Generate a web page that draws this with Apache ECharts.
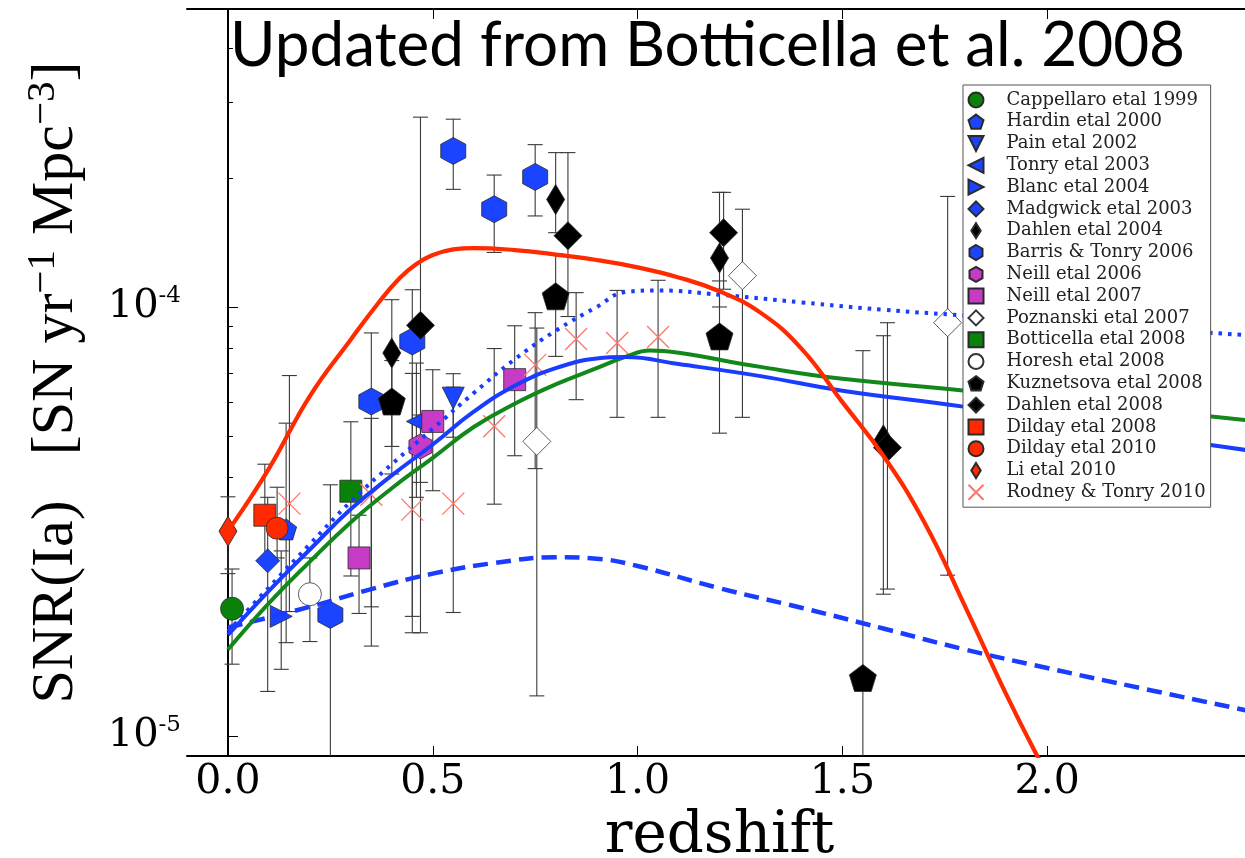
<!DOCTYPE html>
<html><head><meta charset="utf-8">
<script src="https://cdn.jsdelivr.net/npm/echarts@6/dist/echarts.min.js"></script>
<style>html,body{margin:0;padding:0;background:#fff}#c{width:1245px;height:858px}</style>
</head><body><div id="c"></div>
<script>
// ---- observational data: [redshift, rate, lower error, upper error] ----
const cappellaro1999 = [[0.01, 1.98e-5, 1.47e-5, 2.45e-5]];
const hardin2000 = [[0.142, 3.03e-5, 1.65e-5, 5.36e-5]];
const pain2002 = [[0.55, 6.13e-5, 4.97e-5, 6.99e-5]];
const tonry2003 = [[0.46, 5.41e-5, 3.6e-5, 7.4e-5]];
const blanc2004 = [[0.13, 1.9e-5, 1.43e-5, 2.7e-5]];
const madgwick2003 = [[0.097, 2.56e-5, 1.27e-5, 3.6e-5]];
const dahlen2004 = [[0.40, 7.81e-5, 4.08e-5, 1.04e-4], [0.80, 1.78e-4, 1.49e-4, 2.29e-4], [1.20, 1.30e-4, 1.0e-4, 1.85e-4], [1.60, 4.9e-5, 2.14e-5, 8.57e-5]];
const barrisTonry2006 = [[0.25, 1.915e-5, 1e-6, 3.85e-5], [0.35, 6.02e-5, 1.62e-5, 8.7e-5], [0.45, 8.31e-5, 1.74e-5, 1.097e-4], [0.55, 2.31e-4, 1.88e-4, 2.74e-4], [0.65, 1.69e-4, 1.34e-4, 2.03e-4], [0.75, 2.01e-4, 1.63e-4, 2.39e-4]];
const neill2006 = [[0.47, 4.73e-5, 3.9e-5, 5.6e-5]];
const neill2007 = [[0.32, 2.6e-5, 1.93e-5, 3.27e-5], [0.50, 5.41e-5, 3.73e-5, 7.14e-5], [0.70, 6.77e-5, 4.5e-5, 9.04e-5]];
const poznanski2007 = [[0.754, 4.86e-5, 1.24e-5, 8.93e-5], [1.256, 1.183e-4, 5.53e-5, 1.69e-4], [1.757, 9.19e-5, 2.37e-5, 1.81e-4]];
const botticella2008 = [[0.30, 3.72e-5, 2.36e-5, 5.4e-5]];
const horesh2008 = [[0.20, 2.14e-5, 1.66e-5, 2.6e-5]];
const kuznetsova2008 = [[0.40, 6.02e-5, 4.73e-5, 7.5e-5], [0.80, 1.059e-4, 7.67e-5, 1.33e-4], [1.20, 8.54e-5, 5.08e-5, 1.15e-4], [1.55, 1.365e-5, 1e-6, 7.91e-5]];
const dahlen2008 = [[0.47, 9.06e-5, 1.74e-5, 2.77e-4], [0.83, 1.466e-4, 9.5e-5, 2.29e-4], [1.21, 1.49e-4, 1.1e-4, 1.85e-4], [1.61, 4.7e-5, 2.2e-5, 9.19e-5]];
const dilday2008 = [[0.09, 3.27e-5, 2.55e-5, 4.3e-5]];
const dilday2010 = [[0.12, 3.05e-5, 2.6e-5, 3.8e-5]];
const li2010 = [[0.0, 3.0e-5, 2.39e-5, 3.61e-5]];
const rodneyTonry2010 = [[0.15, 3.48e-5, 1.95e-5, 6.92e-5], [0.35, 3.65e-5, 2.0e-5, 5.5e-5], [0.45, 3.37e-5, 1.9e-5, 7.0e-5], [0.55, 3.48e-5, 1.94e-5, 6.5e-5], [0.65, 5.27e-5, 3.47e-5, 8.0e-5], [0.75, 7.33e-5, 4.2e-5, 9.7e-5], [0.85, 8.42e-5, 6.08e-5, 1.08e-4], [0.95, 8.24e-5, 5.53e-5, 1.093e-4], [1.05, 8.51e-5, 5.53e-5, 1.154e-4]];

// ---- model curves: [redshift, rate] ----
const modelRed = [[0.01,3.1e-5],[0.1,4.2e-5],[0.2,6.2e-5],[0.3,8.4e-5],[0.37,1.03e-4],[0.42,1.17e-4],[0.46,1.26e-4],[0.5,1.322e-4],[0.55,1.362e-4],[0.6,1.372e-4],[0.7,1.357e-4],[0.8,1.325e-4],[0.9,1.287e-4],[1.0,1.237e-4],[1.1,1.172e-4],[1.2,1.088e-4],[1.3,9.7e-5],[1.4,8.0e-5],[1.5,6.0e-5],[1.6,4.5e-5],[1.7,3.15e-5],[1.8,2.0e-5],[1.9,1.25e-5],[1.97,9.2e-6],[2.0,8.2e-6]];
const modelBlue = [[0.0,1.72e-5],[0.1,2.18e-5],[0.2,2.72e-5],[0.3,3.38e-5],[0.4,4.05e-5],[0.5,4.78e-5],[0.6,5.7e-5],[0.7,6.55e-5],[0.8,7.2e-5],[0.9,7.58e-5],[0.97,7.64e-5],[1.1,7.36e-5],[1.3,6.9e-5],[1.5,6.38e-5],[1.8,5.85e-5],[2.1,5.25e-5],[2.5,4.62e-5]];
const modelGreen = [[0.0,1.59e-5],[0.1,2.04e-5],[0.2,2.55e-5],[0.3,3.15e-5],[0.4,3.78e-5],[0.5,4.45e-5],[0.6,5.25e-5],[0.7,5.95e-5],[0.8,6.6e-5],[0.9,7.2e-5],[0.97,7.65e-5],[1.03,7.92e-5],[1.1,7.82e-5],[1.3,7.25e-5],[1.5,6.8e-5],[1.8,6.38e-5],[2.1,5.95e-5],[2.5,5.43e-5]];
const modelBlueDotted = [[0.0,1.75e-5],[0.1,2.22e-5],[0.2,2.8e-5],[0.3,3.52e-5],[0.4,4.3e-5],[0.5,5.2e-5],[0.6,6.3e-5],[0.7,7.55e-5],[0.8,8.8e-5],[0.9,1.0e-4],[0.97,1.083e-4],[1.05,1.093e-4],[1.2,1.068e-4],[1.4,1.025e-4],[1.6,9.85e-5],[1.8,9.55e-5],[2.1,9.1e-5],[2.5,8.58e-5]];
const modelBlueDashed = [[0.0,1.79e-5],[0.2,2.0e-5],[0.35,2.2e-5],[0.5,2.39e-5],[0.65,2.53e-5],[0.8,2.61e-5],[0.9,2.59e-5],[1.0,2.49e-5],[1.2,2.21e-5],[1.4,1.99e-5],[1.6,1.78e-5],[1.8,1.59e-5],[2.0,1.44e-5],[2.2,1.31e-5],[2.5,1.14e-5]];

// ---- axes ticks ----
const xTickValues = [0.0, 0.5, 1.0, 1.5, 2.0];
const yMajorTicks = [1e-5, 1e-4];
const yMinorTicks = [2e-5,3e-5,4e-5,5e-5,6e-5,7e-5,8e-5,9e-5,2e-4,3e-4,4e-4];

const BLUE = '#1a44ff', MAG = '#c63cc6', GREEN = '#0a820a', RED = '#ff2a00', EDGE = '#2a2a2a';
const PENT = 'path://M0,-10L9.511,-3.09L5.878,8.09L-5.878,8.09L-9.511,-3.09Z';
const HEX = 'path://M0,-10L8.66,-5L8.66,5L0,10L-8.66,5L-8.66,-5Z';
const TDOWN = 'path://M-1,-1L1,-1L0,1Z';
const TLEFT = 'path://M1,-1L1,1L-1,0Z';
const TRIGHT = 'path://M-1,-1L-1,1L1,0Z';
const DIAM = 'path://M0,-1L1,0L0,1L-1,0Z';
const THIN = 'path://M0,-1.6L1,0L0,1.6L-1,0Z';
const XMARK = 'path://M-1,-1L1,1M1,-1L-1,1';

const sets = [
  {name:'Cappellaro etal 1999', d:cappellaro1999, symbol:'circle', size:23, color:GREEN},
  {name:'Hardin etal 2000', d:hardin2000, symbol:PENT, size:21, color:BLUE},
  {name:'Pain etal 2002', d:pain2002, symbol:TDOWN, size:22, color:BLUE},
  {name:'Tonry etal 2003', d:tonry2003, symbol:TLEFT, size:20, color:BLUE},
  {name:'Blanc etal 2004', d:blanc2004, symbol:TRIGHT, size:22, color:BLUE},
  {name:'Madgwick etal 2003', d:madgwick2003, symbol:DIAM, size:24, color:BLUE},
  {name:'Dahlen etal 2004', d:dahlen2004, symbol:THIN, size:[18,30], color:'#000'},
  {name:'Barris & Tonry 2006', d:barrisTonry2006, symbol:HEX, size:[25,27], color:BLUE},
  {name:'Neill etal 2006', d:neill2006, symbol:HEX, size:[23,25], color:MAG},
  {name:'Neill etal 2007', d:neill2007, symbol:'rect', size:22, color:MAG},
  {name:'Poznanski etal 2007', d:poznanski2007, symbol:DIAM, size:28, color:'#fff', edge:'#333'},
  {name:'Botticella etal 2008', d:botticella2008, symbol:'rect', size:22, color:GREEN},
  {name:'Horesh etal 2008', d:horesh2008, symbol:'circle', size:23, color:'#fff', edge:'#333'},
  {name:'Kuznetsova etal 2008', d:kuznetsova2008, symbol:PENT, size:27, color:'#000'},
  {name:'Dahlen etal 2008', d:dahlen2008, symbol:DIAM, size:28, color:'#000'},
  {name:'Dilday etal 2008', d:dilday2008, symbol:'rect', size:22, color:RED},
  {name:'Dilday etal 2010', d:dilday2010, symbol:'circle', size:22, color:RED},
  {name:'Li etal 2010', d:li2010, symbol:THIN, size:[18,30], color:RED},
  {name:'Rodney & Tonry 2010', d:rodneyTonry2010, symbol:XMARK, size:22, color:'transparent', edge:'#ff7468', bw:1.3}
];

const errorRows = [];
sets.forEach(s => s.d.forEach(p => errorRows.push(p)));

const series = [];
series.push({
  type:'custom', name:'errorbars', silent:true, z:2,
  data: errorRows,
  encode:{x:0, y:1},
  renderItem: function(params, api){
    const x = api.value(0), lo = api.value(2), hi = api.value(3);
    const pH = api.coord([x, hi]), pL = api.coord([x, lo]);
    const cs = params.coordSys;
    const top = cs.y, bot = cs.y + cs.height;
    const px = pH[0];
    const y1 = Math.max(top, pH[1]), y2 = Math.min(bot, pL[1]);
    const st = {stroke:'#3a3a3a', lineWidth:1.1};
    const ch = [{type:'line', shape:{x1:px, y1:y1, x2:px, y2:y2}, style:st}];
    if (pH[1] >= top) ch.push({type:'line', shape:{x1:px-7.5, y1:pH[1], x2:px+7.5, y2:pH[1]}, style:st});
    if (pL[1] <= bot) ch.push({type:'line', shape:{x1:px-7.5, y1:pL[1], x2:px+7.5, y2:pL[1]}, style:st});
    return {type:'group', children:ch};
  }
});
sets.forEach(s => {
  series.push({
    type:'scatter', name:s.name, z:3,
    data: s.d.map(p => [p[0], p[1]]),
    symbol:s.symbol, symbolSize:s.size,
    itemStyle:{color:s.color, borderColor:s.edge || EDGE, borderWidth:s.bw || 0.8, opacity:1},
    emphasis:{disabled:true}
  });
});
function lineSeries(data, color, width, type){
  return {type:'line', data:data, showSymbol:false, symbol:'none', smooth:0.45, z:5, silent:true,
    lineStyle:{color:color, width:width, type:type || 'solid', cap:'butt'}};
}
series.push(lineSeries(modelBlueDashed, '#1a3cff', 4.5, [15, 8]));
series.push(lineSeries(modelBlueDotted, '#1a3cff', 4, [3.5, 6]));
series.push(lineSeries(modelGreen, '#12881a', 4));
series.push(lineSeries(modelBlue, '#1a3cff', 4));
series.push(lineSeries(modelRed, '#ff2a00', 4.2));

function yTickLabel(v){
  const e = Math.log10(v), r = Math.round(e);
  if (Math.abs(e - r) > 1e-6) return '';
  return '{b|10}{s|' + r + '}';
}

const chart = echarts.init(document.getElementById('c'), null, {renderer:'canvas', width:1245, height:858});
chart.setOption({
  animation:false,
  backgroundColor:'#fff',
  title:{text:'Updated from Botticella et al. 2008', left:225, top:10,
    textStyle:{fontFamily:'Lato', fontSize:62, fontWeight:'normal', color:'#000'}},
  grid:{left:187, top:9, right:-7, bottom:102, containLabel:false, outerBoundsMode:'none'},
  legend:{orient:'vertical', left:963, top:85, padding:[4,5,4,4.5], itemGap:0, itemWidth:15, itemHeight:15,
    backgroundColor:'#fff', borderColor:'#555', borderWidth:1, borderRadius:0, z:10,
    textStyle:{fontFamily:'DejaVu Serif', fontSize:18, color:'#222', lineHeight:21.8, padding:[0,0,0,18]},
    data: sets.map(s => s.name)},
  xAxis:[
    {type:'value', min:-0.1, max:2.5, position:'bottom',
     axisLine:{lineStyle:{color:'#000', width:2}},
     axisTick:{inside:true, length:10, customValues:xTickValues, lineStyle:{color:'#000', width:1}},
     axisLabel:{customValues:xTickValues, formatter:v => v.toFixed(1), fontFamily:'DejaVu Serif', fontSize:41, color:'#000', margin:6},
     splitLine:{show:false},
     name:'redshift', nameLocation:'middle', nameGap:48,
     nameTextStyle:{fontFamily:'DejaVu Serif', fontSize:58, color:'#000', lineHeight:58}},
    {type:'value', min:-0.1, max:2.5, position:'top',
     axisLine:{lineStyle:{color:'#000', width:2}},
     axisTick:{inside:true, length:10, customValues:xTickValues, lineStyle:{color:'#000', width:1}},
     axisLabel:{show:false}, splitLine:{show:false}}
  ],
  yAxis:[
    {type:'log', logBase:10, min:8.98e-6, max:4.95e-4, position:'left',
     axisLine:{show:true, lineStyle:{color:'#000', width:2}},
     axisTick:{show:true, inside:true, length:10, customValues:yMajorTicks, lineStyle:{color:'#000', width:1}},
     axisLabel:{customValues:yMajorTicks, formatter:yTickLabel, margin:6,
       rich:{b:{fontFamily:'DejaVu Serif', fontSize:40, color:'#000', lineHeight:44},
             s:{fontFamily:'DejaVu Serif', fontSize:23, color:'#000', lineHeight:44, verticalAlign:'top', padding:[0,0,14,0]}}},
     splitLine:{show:false}, minorTick:{show:false},
     name:'{a|SNR(Ia)}{a|   [SN yr}{s|−1}{a| Mpc}{s|−3}{a|]}', nameLocation:'middle', nameGap:98, nameRotate:90,
     nameTextStyle:{rich:{a:{fontFamily:'Liberation Serif', fontSize:60, color:'#000', lineHeight:66},
                          s:{fontFamily:'Liberation Serif', fontSize:41, color:'#000', lineHeight:66, verticalAlign:'top'}}}},
    {type:'log', logBase:10, min:8.98e-6, max:4.95e-4, position:'left',
     axisLine:{show:false},
     axisTick:{show:true, inside:true, length:5, customValues:yMinorTicks, lineStyle:{color:'#000', width:1}},
     axisLabel:{show:false}, splitLine:{show:false}}
  ],
  series: series
});
</script></body></html>
